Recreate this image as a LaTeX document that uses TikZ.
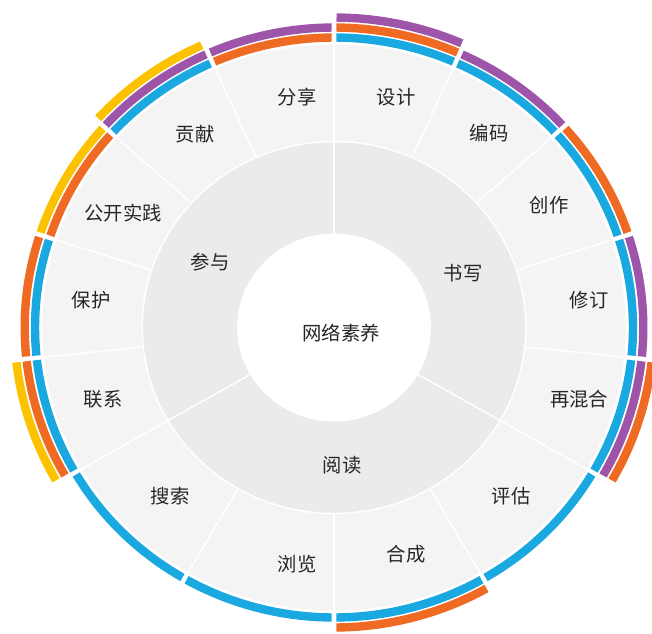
\documentclass[tikz,border=0pt]{standalone}
\usepackage{fontspec}
\setmainfont{Noto Sans CJK SC}
\definecolor{bandblue}{HTML}{1AA8E0}
\definecolor{bandorange}{HTML}{EF6A22}
\definecolor{bandpurple}{HTML}{9E55A9}
\definecolor{bandyellow}{HTML}{FCC200}
\definecolor{outergray}{HTML}{F4F4F4}
\definecolor{innergray}{HTML}{EBEBEB}
\tikzstyle{ringtext} = [text=black!85, font=\fontsize{14.5}{17}\selectfont, inner sep=0pt]
\tikzstyle{band} = [line width=6.3pt]
\tikzstyle{cut} = [white, line width=1.1pt]
% one coloured arc of the outer bands: start, end, radius, colour
\newcommand{\ringband}[4]{\draw[band, #4] (#1+0.45:#3) arc[start angle=#1+0.45, end angle=#2-0.45, radius=#3];}

\begin{document}
\begin{tikzpicture}[x=0.75pt, y=-0.75pt]
\useasboundingbox (0,0) rectangle (652,633);

\begin{scope}[shift={(334,327.5)}, xscale=1.031, yscale=-1]
\fill[outergray] (0,0) circle[radius=283];
\fill[innergray] (0,0) circle[radius=186];
\fill[white] (0,0) circle[radius=94];
\draw[cut] (0,0) circle[radius=186];
\foreach \a in {90,66,42,18,-6,-30,-60,-90,-120,-150,186,162,138,114}
  \draw[cut] (\a:186) -- (\a:284);
\foreach \a in {90,-30,-150}
  \draw[cut] (\a:93) -- (\a:186);

% shuxie
\ringband{66}{90}{290}{bandblue}
\ringband{66}{90}{300}{bandorange}
\ringband{66}{90}{310}{bandpurple}
\ringband{42}{66}{290}{bandblue}
\ringband{42}{66}{300}{bandpurple}
\ringband{18}{42}{290}{bandblue}
\ringband{18}{42}{300}{bandorange}
\ringband{-6}{18}{290}{bandblue}
\ringband{-6}{18}{300}{bandpurple}
\ringband{-30}{-6}{290}{bandblue}
\ringband{-30}{-6}{300}{bandpurple}
\ringband{-30}{-6}{310}{bandorange}
% yuedu
\ringband{-60}{-30}{290}{bandblue}
\ringband{-90}{-60}{290}{bandblue}
\ringband{-90}{-60}{300}{bandorange}
\ringband{-120}{-90}{290}{bandblue}
\ringband{-150}{-120}{290}{bandblue}
% canyu
\ringband{186}{210}{290}{bandblue}
\ringband{186}{210}{300}{bandorange}
\ringband{186}{210}{310}{bandyellow}
\ringband{162}{186}{290}{bandblue}
\ringband{162}{186}{300}{bandorange}
\ringband{138}{162}{290}{bandorange}
\ringband{138}{162}{300}{bandyellow}
\ringband{114}{138}{290}{bandblue}
\ringband{114}{138}{300}{bandpurple}
\ringband{114}{138}{310}{bandyellow}
\ringband{90}{114}{290}{bandorange}
\ringband{90}{114}{300}{bandpurple}
\end{scope}

\node (hub) [ringtext] at (341,333) {网络素养};
\node (shuxie) [ringtext] at (463,273) {书写};
\node (yuedu) [ringtext] at (342,465) {阅读};
\node (canyu) [ringtext] at (210,262) {参与};

\node (sheji) [ringtext] at (396,97) {设计};
\node (bianma) [ringtext] at (489,133) {编码};
\node (chuangzuo) [ringtext] at (549,205) {创作};
\node (xiuding) [ringtext] at (589,300) {修订};
\node (hunhe) [ringtext] at (579,399) {再混合};
\node (pinggu) [ringtext] at (511,496) {评估};
\node (hecheng) [ringtext] at (406,554) {合成};
\node (liulan) [ringtext] at (297,564) {浏览};
\node (sousuo) [ringtext] at (170,496) {搜索};
\node (lianxi) [ringtext] at (103,399) {联系};
\node (baohu) [ringtext] at (91,300) {保护};
\node (gongkai) [ringtext] at (123,213) {公开实践};
\node (gongxian) [ringtext] at (195,134) {贡献};
\node (fenxiang) [ringtext] at (297,97) {分享};

\end{tikzpicture}
\end{document}
